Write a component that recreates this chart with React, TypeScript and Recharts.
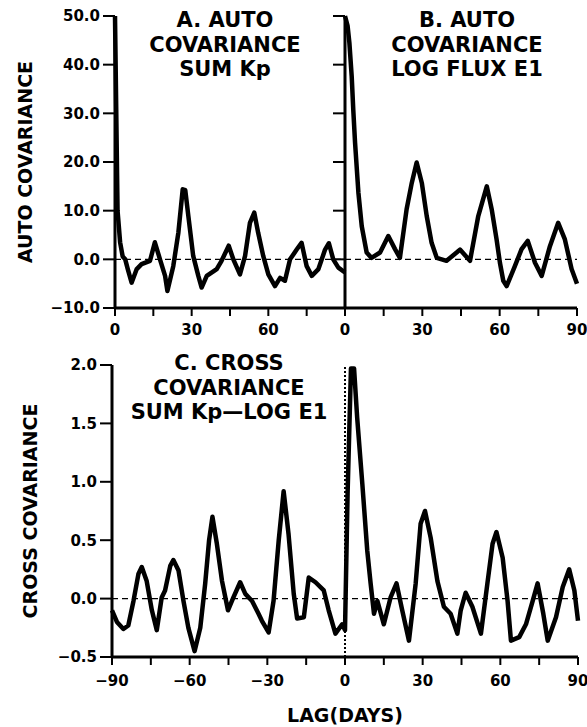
import React from 'react';
import { LineChart, Line, XAxis, YAxis, ReferenceLine } from 'recharts';

const FONT = "'DejaVu Sans', 'Liberation Sans', sans-serif";

// Panel A: auto covariance, Sum Kp
const lagsA = [0, 1, 2, 3, 4, 5, 6.5, 8.5, 10.4, 13.7, 15.6, 17.6, 19.6, 20.5, 22.8, 24.8, 26.5, 27.5, 28.7, 30.6, 32.6, 33.9, 35.9, 39.8, 41.7, 44.5, 46.3, 48.9, 50.9, 52.8, 54.5, 56, 58, 60, 62.6, 64.6, 66.5, 68.5, 71.1, 73, 75, 77, 79.6, 82.2, 83.7, 85.4, 87.4, 90];
const covA = [50, 10, 3.5, 0.6, 0, -2, -4.8, -2, -1.0, -0.3, 3.5, 0, -3.4, -6.5, -1.4, 5.5, 14.4, 14.2, 8.9, 0.7, -3.4, -5.8, -3.4, -2, -0.3, 2.8, 0, -3.1, 0.7, 7.5, 9.6, 5.5, 0.7, -3.1, -5.5, -3.8, -4.4, 0, 2, 3.4, -1.4, -3.4, -2, 2, 3.3, 0, -1.7, -2.7];

// Panel B: auto covariance, log flux E1
const lagsB = [0, 1, 1.7, 2.6, 3.2, 3.9, 5.2, 6.5, 8.4, 10.3, 13.6, 16.8, 19.4, 21.3, 23.9, 25.9, 27.8, 29.8, 31.7, 33.6, 35.6, 39.4, 43.3, 44.6, 48.5, 51.7, 55, 56.9, 58.8, 60.1, 61.4, 62.7, 65.9, 68.5, 70.9, 73.7, 76.3, 79.5, 82.7, 85.3, 87.9, 90];
const covB = [50, 48, 44.5, 37.6, 30.8, 24, 13.7, 6.8, 1.4, 0.3, 1.4, 4.8, 2.1, 0.3, 10.3, 15.7, 19.9, 15.7, 8.9, 3.4, 0.3, -0.3, 1.4, 2, -0.3, 8.9, 15, 10.3, 4.1, -0.7, -4.4, -5.5, -1.4, 2.1, 3.8, -0.7, -3.4, 2.7, 7.5, 4.1, -2, -5];

// Panel C: cross covariance, Sum Kp - log E1
const lagsC = [-90, -88.1, -85.6, -83.7, -81.7, -79.8, -78.5, -76.6, -74.6, -72.7, -70.8, -69.5, -67.5, -66.3, -64.3, -62.4, -60.5, -58.1, -55.9, -54, -52.5, -51.2, -49.5, -47.5, -45.2, -43.1, -40.5, -38.5, -35.9, -33.4, -32.1, -29.5, -27.6, -25.6, -23.7, -21.8, -19.8, -18.5, -15.9, -14, -11.4, -8.2, -6.3, -3.7, -1.1, 0, 1, 2.3, 3.5, 4.7, 6.7, 8.6, 9.9, 11.2, 12.5, 15, 17.6, 19.9, 22.1, 24.7, 27.3, 29.2, 30.9, 33.1, 35.7, 38.2, 40.8, 43.4, 44.7, 46.6, 49.2, 52.5, 55, 57, 58.5, 60.9, 62.8, 64.1, 67.3, 69.9, 72.5, 74.4, 76.6, 78.3, 81.5, 84.1, 86.6, 88.6, 90];
const covC = [-0.1, -0.2, -0.26, -0.23, -0.02, 0.21, 0.27, 0.15, -0.1, -0.27, 0.01, 0.07, 0.28, 0.33, 0.24, -0.02, -0.25, -0.45, -0.25, 0.13, 0.5, 0.7, 0.47, 0.15, -0.1, 0.01, 0.14, 0.04, -0.02, -0.13, -0.19, -0.29, -0.02, 0.5, 0.92, 0.55, 0.04, -0.17, -0.16, 0.18, 0.14, 0.07, -0.1, -0.3, -0.22, -0.27, 0.9, 1.97, 1.97, 1.55, 0.98, 0.41, 0.13, -0.13, -0.02, -0.22, 0.01, 0.13, -0.1, -0.36, 0.13, 0.64, 0.75, 0.52, 0.15, -0.07, -0.13, -0.3, -0.1, 0.05, -0.07, -0.3, 0.13, 0.47, 0.57, 0.35, -0.02, -0.36, -0.33, -0.22, -0.02, 0.13, -0.13, -0.36, -0.16, 0.1, 0.25, 0.07, -0.19];

const xTicksTop = [0, 15, 30, 45, 60, 75, 90];
const yTicksAuto = [-10, 0, 10, 20, 30, 40, 50];
const xTicksCross = [-90, -75, -60, -45, -30, -15, 0, 15, 30, 45, 60, 75, 90];
const yTicksCross = [-0.5, 0, 0.5, 1, 1.5, 2];

const titleA = ['A. AUTO', 'COVARIANCE', 'SUM Kp'];
const titleB = ['B. AUTO', 'COVARIANCE', 'LOG FLUX E1'];
const titleC = ['C. CROSS', 'COVARIANCE', 'SUM Kp\u2014LOG E1'];

const zip = (l: number[], v: number[]) => l.map((lag, i) => ({ lag, v: v[i] }));
const dataA = zip(lagsA, covA);
const dataB = zip(lagsB, covB);
const dataC = zip(lagsC, covC);

const minus = (s: string) => s.replace('-', '\u2212');
const fmt1 = (v: number) => minus(v.toFixed(1));

const tickStyle = { fill: '#000', fontSize: 15, fontFamily: FONT, fontWeight: 700 };
const axisLine = { stroke: '#000', strokeWidth: 3 };
const tickLine = { stroke: '#000', strokeWidth: 2 };

const vLabel = (text: string, dx: number) => (props: any) => {
  const vb = props.viewBox || { x: 0, y: 0, width: 0, height: 0 };
  const cx = vb.x + dx;
  const cy = vb.y + vb.height / 2;
  return (
    <text x={cx} y={cy} transform={`rotate(-90 ${cx} ${cy})`} textAnchor="middle" dominantBaseline="central"
      fontFamily={FONT} fontSize={19} fontWeight={700} fill="#000">{text}</text>
  );
};

const hLabel = (text: string) => (props: any) => {
  const vb = props.viewBox || { x: 0, y: 0, width: 0, height: 0 };
  return (
    <text x={vb.x + vb.width / 2} y={vb.y + vb.height - 1} textAnchor="middle"
      fontFamily={FONT} fontSize={19} fontWeight={700} fill="#000">{text}</text>
  );
};

const Title = ({ lines, cx, top }: { lines: string[]; cx: number; top: number }) => (
  <div style={{ position: 'absolute', left: cx - 130, top, width: 260, textAlign: 'center', fontFamily: FONT, fontWeight: 700, fontSize: 21, lineHeight: '24.5px', color: '#000', whiteSpace: 'nowrap' }}>
    {lines.map((l) => <div key={l}>{l}</div>)}
  </div>
);

const abs: React.CSSProperties = { position: 'absolute', left: 0, top: 0 };
const LW = 4.5;

export default function App() {
  return (
    <div style={{ position: 'absolute', left: 0, top: 0, width: 587, height: 727, background: '#fff', overflow: 'hidden' }}>
      <div style={abs}>
        <LineChart width={587} height={345} data={dataA} margin={{ top: 16, right: 242, left: 0, bottom: 7 }}>
          <XAxis dataKey="lag" type="number" domain={[0, 90]} ticks={xTicksTop} interval={0}
            tickFormatter={(v: number) => (v % 30 === 0 && v !== 90 ? String(v) : '')}
            tick={tickStyle} axisLine={axisLine} tickLine={tickLine} tickSize={8} tickMargin={8} height={30} />
          <YAxis type="number" domain={[-10, 50]} ticks={yTicksAuto} interval={0} tickFormatter={fmt1}
            tick={tickStyle} axisLine={axisLine} tickLine={tickLine} tickSize={12} tickMargin={3} width={115}
            label={{ content: vLabel('AUTO COVARIANCE', 25) }} />
          <ReferenceLine y={0} stroke="#000" strokeWidth={1.3} strokeDasharray="6 4" />
          <Line dataKey="v" type="linear" stroke="#000" strokeWidth={LW} dot={false} strokeLinejoin="round" isAnimationActive={false} />
        </LineChart>
      </div>
      <div style={abs}>
        <LineChart width={587} height={345} data={dataB} margin={{ top: 16, right: 10, left: 330, bottom: 7 }}>
          <XAxis dataKey="lag" type="number" domain={[0, 90]} ticks={xTicksTop} interval={0}
            tickFormatter={(v: number) => (v % 30 === 0 ? String(v) : '')}
            tick={tickStyle} axisLine={axisLine} tickLine={tickLine} tickSize={8} tickMargin={8} height={30} />
          <YAxis type="number" domain={[-10, 50]} ticks={yTicksAuto} interval={0} tickFormatter={() => ''}
            tick={tickStyle} axisLine={axisLine} tickLine={tickLine} tickSize={12} width={15} />
          <ReferenceLine y={0} stroke="#000" strokeWidth={1.3} strokeDasharray="6 4" />
          <Line dataKey="v" type="linear" stroke="#000" strokeWidth={LW} dot={false} strokeLinejoin="round" isAnimationActive={false} />
        </LineChart>
      </div>
      <div style={abs}>
        <LineChart width={587} height={727} data={dataC} margin={{ top: 365, right: 9, left: 0, bottom: 4 }}>
          <XAxis dataKey="lag" type="number" domain={[-90, 90]} ticks={xTicksCross} interval={0}
            tickFormatter={(v: number) => (v % 30 === 0 ? minus(String(v)) : '')}
            tick={tickStyle} axisLine={axisLine} tickLine={tickLine} tickSize={8} tickMargin={10} height={66}
            label={{ content: hLabel('LAG(DAYS)') }} />
          <YAxis type="number" domain={[-0.5, 2]} ticks={yTicksCross} interval={0} tickFormatter={fmt1}
            tick={tickStyle} axisLine={axisLine} tickLine={tickLine} tickSize={12} tickMargin={3} width={112}
            label={{ content: vLabel('CROSS COVARIANCE', 30) }} />
          <ReferenceLine y={0} stroke="#000" strokeWidth={1.3} strokeDasharray="6 4" />
          <ReferenceLine x={0} stroke="#000" strokeWidth={2} strokeDasharray="2 2" />
          <Line dataKey="v" type="linear" stroke="#000" strokeWidth={LW} dot={false} strokeLinejoin="round" isAnimationActive={false} />
        </LineChart>
      </div>
      <Title lines={titleA} cx={225} top={8} />
      <Title lines={titleB} cx={467} top={8} />
      <Title lines={titleC} cx={229} top={351} />
    </div>
  );
}
